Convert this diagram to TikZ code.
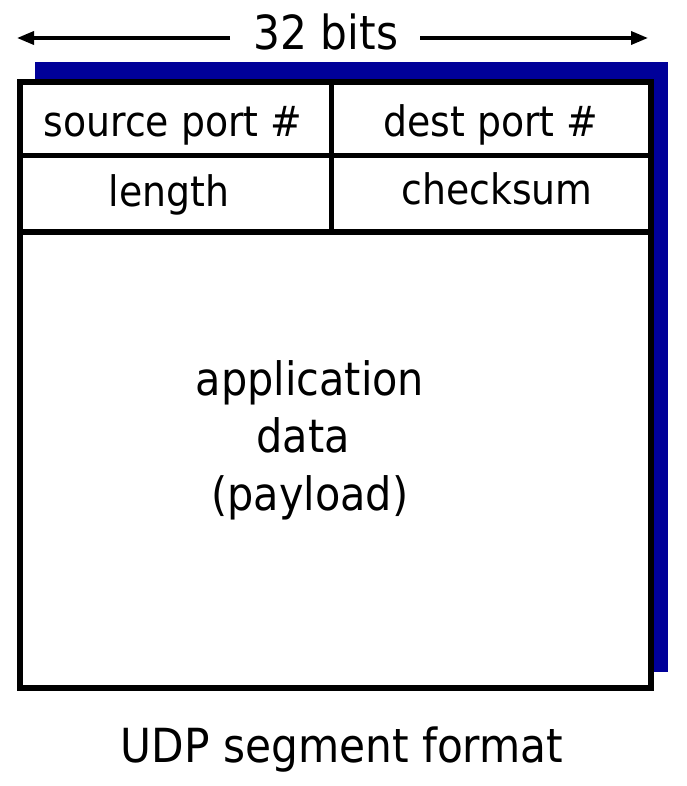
\documentclass[tikz,border=0pt]{standalone}
\usepackage{fontspec}
\setmainfont{DejaVu Sans Condensed}
\usetikzlibrary{arrows.meta}
\definecolor{shadowblue}{RGB}{0,0,153}
\begin{document}
\begin{tikzpicture}[x=1pt,y=-1pt,
  lbl/.style={anchor=base,inner sep=0pt,font=\fontsize{42}{50}\selectfont},
  big/.style={anchor=base,inner sep=0pt,font=\fontsize{47}{57}\selectfont},
  body/.style={anchor=base,inner sep=0pt,font=\fontsize{46}{57}\selectfont},
  frame/.style={line width=5.5pt},
  rule/.style={line width=5pt},
  dim/.style={line width=3.5pt,-{Triangle[length=17pt,width=13pt]}}]
\useasboundingbox (0,0) rectangle (686,786);
% shadow and frame
\fill[shadowblue] (35,62) rectangle (668,672);
\draw[frame,fill=white] (20,82) rectangle (651,688);
\draw[rule] (20,156) -- (651,156);
\draw[rule] (17,232) -- (649,232);
\draw[rule] (331,82) -- (331,232);
% width label
\node[big] (bits) at (326,50) {32 bits};
\coordinate (la) at (230,38);
\coordinate (lt) at (17,38);
\coordinate (ra) at (420,38);
\coordinate (rt) at (648,38);
\draw[dim] (la) -- (lt);
\draw[dim] (ra) -- (rt);
% fields
\node[lbl] (src) at (173,137) {source port \#};
\node[lbl] (dst) at (491,137) {dest port \#};
\node[lbl] (len) at (169,207) {length};
\node[lbl] (chk) at (497,205) {checksum};
\node[body] (app1) at (310,395) {application};
\node[body] (app2) at (303,452) {data};
\node[body] (app3) at (310,510) {(payload)};
\node[big] (cap) at (342,762) {UDP segment format};
\end{tikzpicture}
\end{document}
